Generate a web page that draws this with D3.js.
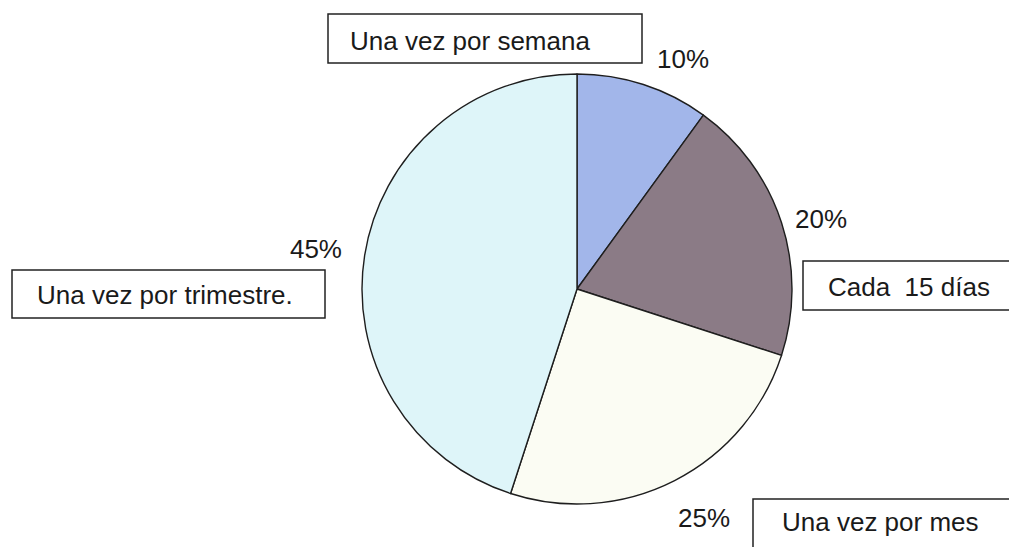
<!DOCTYPE html>
<html>
<head>
<meta charset="utf-8">
<script src="https://cdn.jsdelivr.net/npm/d3@7"></script>
<style>
  html, body { margin: 0; padding: 0; background: #fff; }
  svg { display: block; }
  text { font-family: "Liberation Sans", Arial, Helvetica, sans-serif; fill: #1a1a1a; }
</style>
</head>
<body>
<div id="chart"></div>
<script>
'use strict';

// slices, clockwise from 12 o'clock
var categories = ['Una vez por semana', 'Cada  15 días', 'Una vez por mes', 'Una vez por trimestre.'];
var values = [10, 20, 25, 45];
var colors = ['#a2b6ea', '#8b7b86', '#fbfcf3', '#def5f9'];

// hand placed annotation boxes (like the original text boxes)
var labelLayout = [
  {box: [328, 14, 314, 49], text: [350, 50], pct: [657, 68], anchor: 'start'},
  {box: [803, 261, 215, 49], text: [828, 296], pct: [795, 228], anchor: 'start'},
  {box: [753, 499, 265, 60], text: [782, 531], pct: [678, 527], anchor: 'start'},
  {box: [12, 270, 313, 48], text: [37, 304], pct: [342, 258], anchor: 'end'}
];

var W = 1009, H = 547;
var cx = 577, cy = 289, R = 215;

var svg = d3.select('#chart').append('svg')
  .attr('width', W)
  .attr('height', H);

var pie = d3.pie().sort(null).value(function(d) { return d; });
var arc = d3.arc().innerRadius(0).outerRadius(R);

var arcs = pie(values);

var g = svg.append('g').attr('transform', 'translate(' + cx + ',' + cy + ')');

g.selectAll('path')
  .data(arcs)
  .enter()
  .append('path')
  .attr('d', arc)
  .attr('fill', function(d, i) { return colors[i]; })
  .attr('stroke', '#1e1e1e')
  .attr('stroke-width', 1.4)
  .attr('stroke-linejoin', 'round');

var labels = svg.selectAll('g.lbl')
  .data(arcs)
  .enter()
  .append('g')
  .attr('class', 'lbl');

labels.append('rect')
  .attr('x', function(d, i) { return labelLayout[i].box[0]; })
  .attr('y', function(d, i) { return labelLayout[i].box[1]; })
  .attr('width', function(d, i) { return labelLayout[i].box[2]; })
  .attr('height', function(d, i) { return labelLayout[i].box[3]; })
  .attr('fill', '#fff')
  .attr('stroke', '#222')
  .attr('stroke-width', 1.5);

labels.append('text')
  .attr('x', function(d, i) { return labelLayout[i].text[0]; })
  .attr('y', function(d, i) { return labelLayout[i].text[1]; })
  .style('font-size', '26px')
  .style('white-space', 'pre')
  .attr('xml:space', 'preserve')
  .text(function(d, i) { return categories[i]; });

labels.append('text')
  .attr('x', function(d, i) { return labelLayout[i].pct[0]; })
  .attr('y', function(d, i) { return labelLayout[i].pct[1]; })
  .attr('text-anchor', function(d, i) { return labelLayout[i].anchor; })
  .style('font-size', '26px')
  .text(function(d) { return d3.format('.0%')((d.endAngle - d.startAngle) / (2 * Math.PI)); });
</script>
</body>
</html>
